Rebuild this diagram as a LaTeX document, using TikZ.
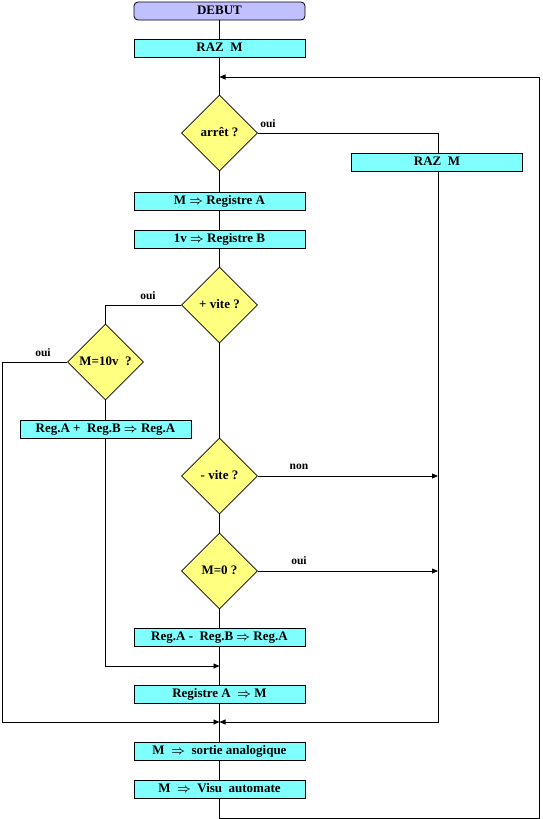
\documentclass[tikz,border=0pt]{standalone}
\usepackage{fontspec}
\setmainfont{Liberation Serif}
\usetikzlibrary{shapes.geometric,arrows.meta}
\definecolor{boxcyan}{HTML}{80FFFF}
\definecolor{decyellow}{HTML}{FFFF80}
\definecolor{startlav}{HTML}{C0C0FF}
\tikzset{
  base/.style={draw=black,line width=0.8pt,inner sep=0pt,font=\fontsize{13}{14}\selectfont\bfseries\boldmath,text height=8.8pt,text depth=2pt},
  procbox/.style={base,fill=boxcyan,minimum width=171pt,minimum height=18pt},
  startbox/.style={base,fill=startlav,minimum width=171pt,minimum height=18pt,rounded corners=4pt},
  decision/.style={base,fill=decyellow,diamond,aspect=1,minimum width=76pt,minimum height=76pt},
  lbl/.style={font=\fontsize{11.5}{12}\selectfont\bfseries,inner sep=0pt},
  conn/.style={line width=0.8pt},
  arr/.style={conn,-{Triangle[length=6pt,width=5pt]}}
}
\begin{document}
\begin{tikzpicture}[x=1pt,y=-1pt]
\useasboundingbox (0,0) rectangle (543,819);
% nodes
\node[startbox] (debut) at (219.5,11) {DEBUT};
\node[procbox] (raz) at (219.5,48) {RAZ\ \ M};
\node[decision] (arret) at (219.5,133) {arrêt ?};
\node[procbox] (raz2) at (437,162) {RAZ\ \ M};
\node[procbox] (rega) at (219.5,201) {M $\Rightarrow$ Registre A};
\node[procbox] (regb) at (219.5,239) {1v $\Rightarrow$ Registre B};
\node[decision] (plus) at (219.5,305) {+ vite ?};
\node[decision] (m10) at (105.5,362) {M=10v\ \ ?};
\node[procbox] (add) at (105.5,429) {Reg.A +\ \ Reg.B $\Rightarrow$ Reg.A};
\node[decision] (moins) at (219.5,476) {- vite ?};
\node[decision] (mzero) at (219.5,571) {M=0 ?};
\node[procbox] (sub) at (219.5,637) {Reg.A -\ \ Reg.B $\Rightarrow$ Reg.A};
\node[procbox] (regm) at (219.5,694) {Registre A\ \ $\Rightarrow$ M};
\node[procbox] (sortie) at (219.5,751) {M\ \ $\Rightarrow$\ \ sortie analogique};
\node[procbox] (visu) at (219.5,789) {M\ \ $\Rightarrow$\ \ Visu\ \ automate};
% labels
\node[lbl] (l1) at (268,124) {oui};
\node[lbl] (l2) at (148,296) {oui};
\node[lbl] (l3) at (43,353) {oui};
\node[lbl] (l4) at (299,467) {non};
\node[lbl] (l5) at (299,561) {oui};
% coordinates
\coordinate (loopin) at (219.5,77);
\coordinate (loopbr) at (539,818);
\coordinate (looptr) at (539,77);
\coordinate (jA) at (219.5,666);
\coordinate (jB) at (219.5,722);
\coordinate (lB) at (2,722);
\coordinate (rB) at (438,722);
\coordinate (r1) at (438,476);
\coordinate (r2) at (438,571);
\coordinate (tr1) at (438,133);
% connectors
\draw[conn] (debut) -- (raz);
\draw[conn] (raz) -- (arret.north);
\draw[conn] (arret.east) -- (tr1) -- (raz2.north -| tr1);
\draw[conn] (arret.south) -- (rega);
\draw[conn] (rega) -- (regb);
\draw[conn] (regb) -- (plus.north);
\draw[conn] (plus.west) -| (m10.north);
\draw[arr] (m10.west) -| (lB) -- (jB);
\draw[conn] (m10.south) -- (add);
\draw[arr] (add.south) |- (jA);
\draw[conn] (plus.south) -- (moins.north);
\draw[arr] (moins.east) -- (r1);
\draw[conn] (moins.south) -- (mzero.north);
\draw[arr] (mzero.east) -- (r2);
\draw[conn] (mzero.south) -- (sub);
\draw[conn] (sub) -- (regm);
\draw[conn] (regm) -- (sortie);
\draw[conn] (sortie) -- (visu);
\draw[arr] (raz2.south -| rB) -- (rB) -- (jB);
\draw[arr] (visu.south) |- (loopbr) -- (looptr) -- (loopin);
\end{tikzpicture}
\end{document}
